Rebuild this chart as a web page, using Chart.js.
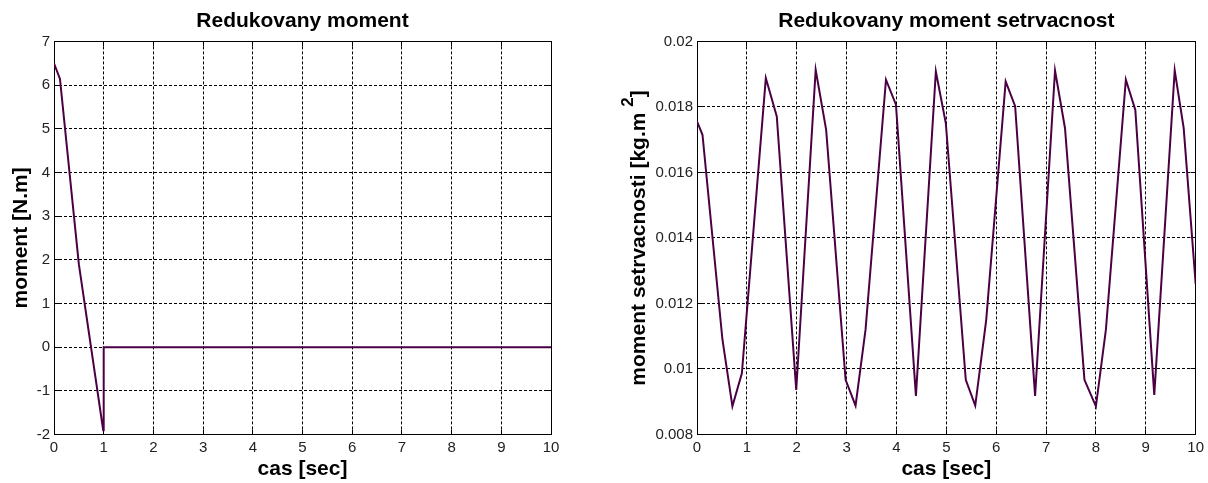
<!DOCTYPE html>
<html><head><meta charset="utf-8">
<script src="https://cdn.jsdelivr.net/npm/chart.js@4.4.1/dist/chart.umd.min.js"></script>
<style>
html,body{margin:0;padding:0;background:#fff;width:1208px;height:483px;overflow:hidden}
#c1{position:absolute;left:0;top:0}
#c2{position:absolute;left:600px;top:0}
</style></head><body>
<canvas id="c1" width="600" height="483"></canvas>
<canvas id="c2" width="608" height="483"></canvas>
<script>
// ---- data ----
const timeMoment = [0, 0.12, 0.5, 0.99, 1.0, 10];
const moment     = [6.5, 6.14, 1.9, -1.9, 0, 0];

const timeInertia = [0, 0.11, 0.51, 0.71, 0.9, 1.38, 1.6, 1.99, 2.38, 2.59, 2.98, 3.18, 3.38, 3.79, 3.99, 4.39, 4.79, 4.99, 5.39, 5.58, 5.8, 6.19, 6.38, 6.78, 7.18, 7.38, 7.77, 8.0, 8.2, 8.6, 8.79, 9.17, 9.58, 9.76, 10];
const inertia     = [0.01756, 0.01715, 0.0109, 0.00886, 0.00987, 0.01888, 0.01771, 0.00936, 0.01913, 0.0173, 0.00967, 0.00888, 0.0112, 0.01883, 0.01807, 0.00918, 0.01908, 0.0175, 0.00967, 0.00888, 0.0115, 0.01878, 0.01802, 0.00918, 0.01911, 0.01735, 0.00967, 0.00886, 0.0112, 0.01883, 0.01791, 0.00921, 0.01911, 0.01735, 0.0126];

const xTickLabels       = ['0','1','2','3','4','5','6','7','8','9','10'];
const yTickLabelsMoment = ['-2','-1','0','1','2','3','4','5','6','7'];
const yTickLabelsInertia = ['0.008','0.01','0.012','0.014','0.016','0.018','0.02'];

const titleLeft  = 'Redukovany moment';
const titleRight = 'Redukovany moment setrvacnost';
const xLabel = 'cas [sec]';
const yLabelLeft = 'moment [N.m]';
const yLabelRightMain = 'moment setrvacnosti [kg.m';
const yLabelRightSup = '2';
const yLabelRightEnd = ']';

// ---- styling ----
const LINE_COLOR = '#4b0045';
const TICK_FONT = {family: 'Liberation Sans', size: 15, weight: 'normal'};
const LABEL_FONT = {family: 'Liberation Sans', size: 21, weight: 'bold'};

function pts(xs, ys) { return xs.map((x, i) => ({x: x, y: ys[i]})); }
function al(p) { return Math.round(p - 0.5) + 0.5; }

const boxPlugin = {
  id: 'matlabBox',
  beforeDatasetsDraw(chart) {
    const {ctx, chartArea: a, scales} = chart;
    const L = al(a.left), R = al(a.right), T = al(a.top), B = al(a.bottom);
    ctx.save();
    ctx.setLineDash([]);
    ctx.strokeStyle = '#000';
    ctx.lineWidth = 1;
    ctx.beginPath();
    const tl = 5;
    scales.x.ticks.forEach(t => {
      const x = al(scales.x.getPixelForValue(t.value));
      ctx.moveTo(x, B); ctx.lineTo(x, B - tl);
      ctx.moveTo(x, T); ctx.lineTo(x, T + tl);
    });
    scales.y.ticks.forEach(t => {
      const y = al(scales.y.getPixelForValue(t.value));
      ctx.moveTo(L, y); ctx.lineTo(L + tl, y);
      ctx.moveTo(R, y); ctx.lineTo(R - tl, y);
    });
    ctx.stroke();
    ctx.strokeRect(L, T, R - L, B - T);
    ctx.restore();
  }
};

const supLabelPlugin = {
  id: 'supLabel',
  afterDraw(chart, args, opts) {
    if (!opts || !opts.enabled) return;
    const {ctx, chartArea: a} = chart;
    ctx.save();
    ctx.fillStyle = '#000';
    ctx.textBaseline = 'alphabetic';
    ctx.textAlign = 'left';
    const mainFont = 'bold 21px "Liberation Sans"';
    const supFont = 'bold 17px "Liberation Sans"';
    ctx.font = mainFont;
    const w1 = ctx.measureText(opts.main).width;
    const sp = ctx.measureText(' ').width;
    const w3 = ctx.measureText(opts.end).width;
    ctx.font = supFont;
    const w2 = ctx.measureText(opts.sup).width;
    const total = w1 + sp + w2 + w3;
    const cy = (a.top + a.bottom) / 2;
    ctx.translate(opts.baselineX, cy);
    ctx.rotate(-Math.PI / 2);
    const s = -total / 2;
    ctx.font = mainFont;
    ctx.fillText(opts.main, s, 0);
    ctx.font = supFont;
    ctx.fillText(opts.sup, s + w1 + sp, -12);
    ctx.font = mainFont;
    ctx.fillText(opts.end, s + w1 + sp + w2, 0);
    ctx.restore();
  }
};

function makeChart(id, cfg) {
  return new Chart(document.getElementById(id), {
    type: 'line',
    data: {
      datasets: [{
        data: pts(cfg.xs, cfg.ys),
        borderColor: LINE_COLOR,
        borderWidth: 2,
        pointRadius: 0,
        tension: 0,
        fill: false
      }]
    },
    plugins: [boxPlugin, supLabelPlugin],
    options: {
      responsive: false,
      animation: false,
      devicePixelRatio: 1,
      layout: {padding: {left: 0, right: cfg.padRight, top: 0, bottom: 0}},
      plugins: {
        legend: {display: false},
        tooltip: {enabled: false},
        title: {
          display: true, text: cfg.title, fullSize: false,
          font: LABEL_FONT, color: '#000',
          padding: {top: 9, bottom: 7.2}
        },
        supLabel: cfg.supLabel || {enabled: false}
      },
      scales: {
        x: {
          type: 'linear', min: 0, max: 10,
          ticks: {
            stepSize: 1, autoSkip: false, maxRotation: 0,
            font: TICK_FONT, color: '#222', padding: 4,
            callback: (v) => xTickLabels[Math.round(v)]
          },
          grid: {color: '#000', lineWidth: 1, drawTicks: false},
          border: {display: false, dash: [3, 2]},
          title: {display: true, text: xLabel, font: LABEL_FONT, color: '#000', padding: {top: 0, bottom: 1}},
          afterFit: (s) => { s.height = 48.5; }
        },
        y: {
          type: 'linear', min: cfg.yMin, max: cfg.yMax,
          ticks: {
            stepSize: cfg.yStep, autoSkip: false,
            font: TICK_FONT, color: '#222', padding: 4,
            callback: (v) => cfg.yLabels[Math.round((v - cfg.yMin) / cfg.yStep)]
          },
          grid: {color: '#000', lineWidth: 1, drawTicks: false},
          border: {display: false, dash: [3, 2]},
          title: cfg.yTitle
            ? {display: true, text: cfg.yTitle, font: LABEL_FONT, color: '#000', padding: {top: 8.4, bottom: 0}}
            : {display: false},
          afterFit: (s) => { s.width = cfg.yWidth; }
        }
      }
    }
  });
}

makeChart('c1', {
  xs: timeMoment, ys: moment, title: titleLeft,
  yMin: -2, yMax: 7, yStep: 1, yLabels: yTickLabelsMoment,
  yTitle: yLabelLeft, yWidth: 54, padRight: 49
});

makeChart('c2', {
  xs: timeInertia, ys: inertia, title: titleRight,
  yMin: 0.008, yMax: 0.02, yStep: 0.002, yLabels: yTickLabelsInertia,
  yTitle: null, yWidth: 97, padRight: 12,
  supLabel: {enabled: true, main: yLabelRightMain, sup: yLabelRightSup, end: yLabelRightEnd, baselineX: 45}
});
</script>
</body></html>
